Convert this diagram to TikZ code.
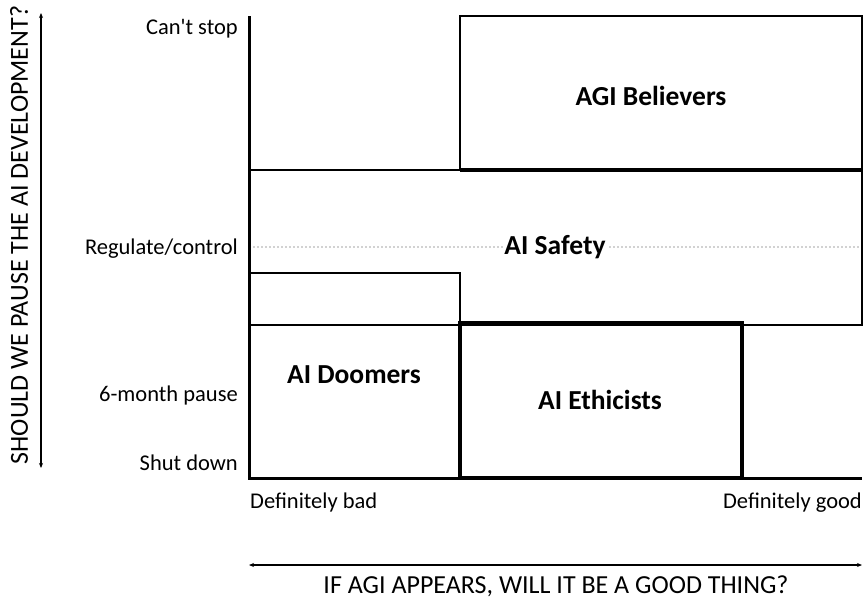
\documentclass[tikz,border=0pt]{standalone}
\usepackage{fontspec}
\setmainfont{Carlito}
\usetikzlibrary{arrows.meta}
\tikzset{
  group/.style={font=\fontsize{27.5}{30}\selectfont\bfseries},
  tick/.style={font=\fontsize{22.5}{24}\selectfont, anchor=base east, inner sep=0pt},
  axistitle/.style={font=\fontsize{26}{28}\selectfont, inner sep=0pt},
}
\begin{document}
\begin{tikzpicture}[x=1pt,y=-1pt]
      \useasboundingbox (0,0) rectangle (867,600);

      % grey guide line for the middle answer
      \draw[gray!35, dotted, line width=2pt] (249,247) -- (862,247);

      % the four groups
      \draw[line width=2.2pt] (460,16) rectangle (862,170);
      \draw[line width=2.2pt] (249,170) rectangle (862,325);
      \draw[line width=2pt] (249,273) -| (460,325);
      \draw[line width=2pt] (249,325) rectangle (460,478);
      \draw[line width=4pt] (460,170) -- (862,170);
      \draw[line width=4pt] (460,323) rectangle (742,478);
      \draw[line width=3pt] (249,16) -- (249,478) -- (862,478);

      \node[group] (believers) at (651,96) {AGI Believers};
      \node[group, fill=white, inner sep=1pt] (safety) at (555,247) {AI Safety};
      \node[group] (doomers) at (354,375) {AI Doomers};
      \node[group] (ethicists) at (600,400) {AI Ethicists};

      % answers on the vertical axis
      \node[tick] (cantstop) at (238,34) {Can\textquotesingle t stop};
      \node[tick] (regulate) at (238,254) {Regulate/control};
      \node[tick] (pause) at (238,401) {6-month pause};
      \node[tick] (shutdown) at (238,470) {Shut down};

      % answers on the horizontal axis
      \node[tick, anchor=base west] (bad) at (250,508) {Definitely bad};
      \node[tick] (good) at (862,508) {Definitely good};

      % axis arrows and questions
      \coordinate (ytop) at (41,13);
      \coordinate (ybot) at (41,468);
      \coordinate (xleft) at (249,565);
      \coordinate (xright) at (862,565);
      \draw[{Stealth[length=5pt,width=4pt]}-{Stealth[length=5pt,width=4pt]}, line width=1.2pt] (ytop) -- (ybot);
      \draw[{Stealth[length=5pt,width=4pt]}-{Stealth[length=5pt,width=4pt]}, line width=1.2pt] (xleft) -- (xright);
      \node[axistitle, rotate=90] (yq) at (19,235) {SHOULD WE PAUSE THE AI DEVELOPMENT?};
      \node[axistitle, anchor=base] (xq) at (556,593) {IF AGI APPEARS, WILL IT BE A GOOD THING?};
\end{tikzpicture}
\end{document}
